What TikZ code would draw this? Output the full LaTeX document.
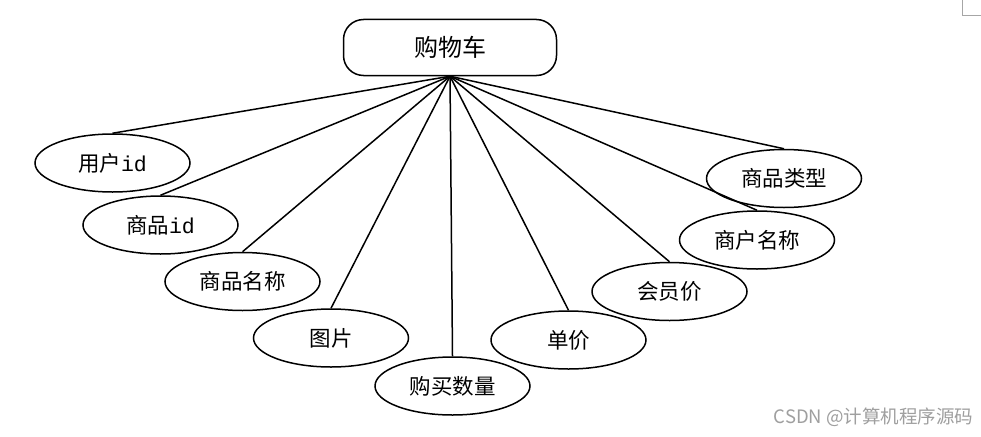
\documentclass[tikz,border=0pt]{standalone}
\usepackage{fontspec}
\setmainfont{Noto Sans CJK SC}
\newfontfamily\idfont{Liberation Mono}
\usetikzlibrary{shapes.geometric}
\begin{document}
\begin{tikzpicture}[x=1pt,y=-1pt,
  attr/.style={ellipse, draw, line width=1.5pt, minimum width=155pt, minimum height=58pt, inner sep=0pt, font=\fontsize{21.5}{25}\selectfont},
  ent/.style={rectangle, rounded corners=20pt, draw, line width=1.5pt, minimum width=213pt, minimum height=56pt, font=\fontsize{24}{28}\selectfont},
  link/.style={line width=1.5pt},
  cornermark/.style={draw=gray!70, line width=1pt}]
\useasboundingbox (0,0) rectangle (981,436);
\fill[white] (0,0) rectangle (981,436);

\node[ent] (root) at (450,47.5) {购物车};

\node[attr] (a1) at (112.5,163) {用户{\idfont id}};
\node[attr] (a2) at (160.5,225) {商品{\idfont id}};
\node[attr] (a3) at (242.5,281.5) {商品名称};
\node[attr] (a4) at (331,338) {图片};
\node[attr] (a5) at (452.5,386) {购买数量};
\node[attr] (a6) at (568.5,340) {单价};
\node[attr] (a7) at (669.5,291.5) {会员价};
\node[attr] (a8) at (757,240) {商户名称};
\node[attr] (a9) at (784,178.5) {商品类型};

\foreach \n in {a1,a2,a3,a4,a5,a6,a7,a8,a9}
  \draw[link] (root.south) -- (\n.north);

\node[text=gray!75, font=\fontsize{18.5}{22}\selectfont, anchor=east] (wm) at (977,417) {CSDN @计算机程序源码};

\coordinate (c1) at (962,0);
\coordinate (c2) at (962,16);
\coordinate (c3) at (981,16);
\draw[cornermark] (c1) -- (c2) -- (c3);
\end{tikzpicture}
\end{document}
